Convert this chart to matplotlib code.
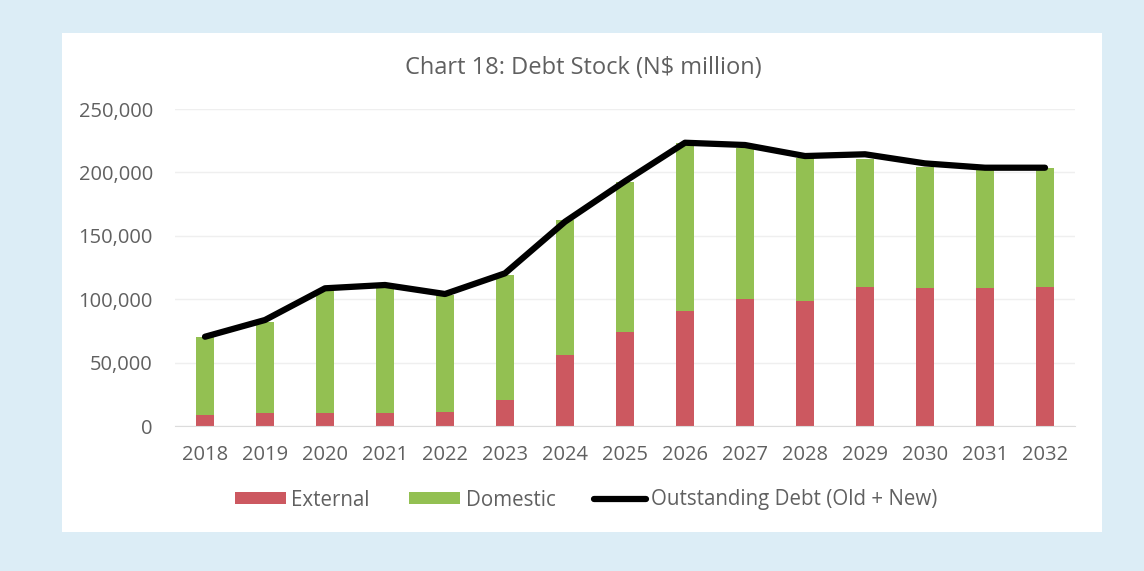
import matplotlib
matplotlib.use("Agg")
import matplotlib.pyplot as plt
from matplotlib.patches import Rectangle
from matplotlib.ticker import FuncFormatter

years = ["2018", "2019", "2020", "2021", "2022", "2023", "2024", "2025",
         "2026", "2027", "2028", "2029", "2030", "2031", "2032"]
external = [8700, 10000, 10000, 10000, 11300, 20500, 56000, 74400,
            91000, 100100, 98800, 109900, 108600, 108600, 109900]
domestic = [61700, 72300, 97300, 98600, 92000, 98600, 106500, 118300,
            132000, 118900, 112300, 100400, 95900, 93300, 93300]
outstanding = [70400, 83600, 108600, 111200, 104100, 120400, 161100, 193000,
               223400, 221600, 212900, 214300, 207100, 203700, 203700]

RED = "#cc5860"
GREEN = "#93c052"
TEXT = "#606060"
BG = "#dcedf6"

plt.rcParams["font.family"] = ["Open Sans", "DejaVu Sans"]

fig = plt.figure(figsize=(11.44, 5.71), dpi=100)
fig.patch.set_facecolor(BG)

# white chart panel
fig.add_artist(Rectangle((62 / 1144, 1 - 532 / 571), (1102 - 62) / 1144, (532 - 33) / 571,
                         transform=fig.transFigure, facecolor="white", edgecolor="none", zorder=0))

ax = fig.add_axes([175 / 1144, 1 - 426 / 571, 900 / 1144, 317 / 571])
ax.set_facecolor("none")

x = range(len(years))
b_ext = ax.bar(x, external, width=0.3, color=RED, label="External", zorder=2)
b_dom = ax.bar(x, domestic, width=0.3, bottom=external, color=GREEN, label="Domestic", zorder=2)
ln, = ax.plot(x, outstanding, color="black", linewidth=4.5, solid_capstyle="round",
              solid_joinstyle="round", label="Outstanding Debt (Old + New)", zorder=3)

ax.set_xlim(-0.5, len(years) - 0.5)
ax.set_ylim(0, 250000)
ax.set_yticks(range(0, 250001, 50000))
ax.yaxis.set_major_formatter(FuncFormatter(lambda v, p: f"{int(v):,}"))
ax.set_xticks(list(x))
ax.set_xticklabels(years)
ax.grid(axis="y", color="#efefef", linewidth=1, zorder=0)
ax.set_axisbelow(True)
for s in ["top", "right", "left"]:
    ax.spines[s].set_visible(False)
ax.spines["bottom"].set_color("#dcdcdc")
ax.tick_params(axis="both", length=0, labelsize=14.5, labelcolor=TEXT)
ax.tick_params(axis="y", pad=16)
ax.tick_params(axis="x", pad=14)

fig.text(583 / 1144, 1 - 68 / 571, "Chart 18: Debt Stock (N$ million)", ha="center", va="center",
         fontsize=17, color=TEXT)

leg = fig.legend([b_ext, b_dom, ln],
                 ["External", "Domestic", "Outstanding Debt (Old + New)"],
                 loc="center", bbox_to_anchor=(586 / 1144, 1 - 500 / 571), ncol=3, frameon=False,
                 fontsize=14.8, handlelength=2.5, handleheight=0.5, columnspacing=1.9,
                 handletextpad=0.25)
for t in leg.get_texts():
    t.set_color(TEXT)

fig.savefig("out.png", dpi=100, facecolor=fig.get_facecolor())
